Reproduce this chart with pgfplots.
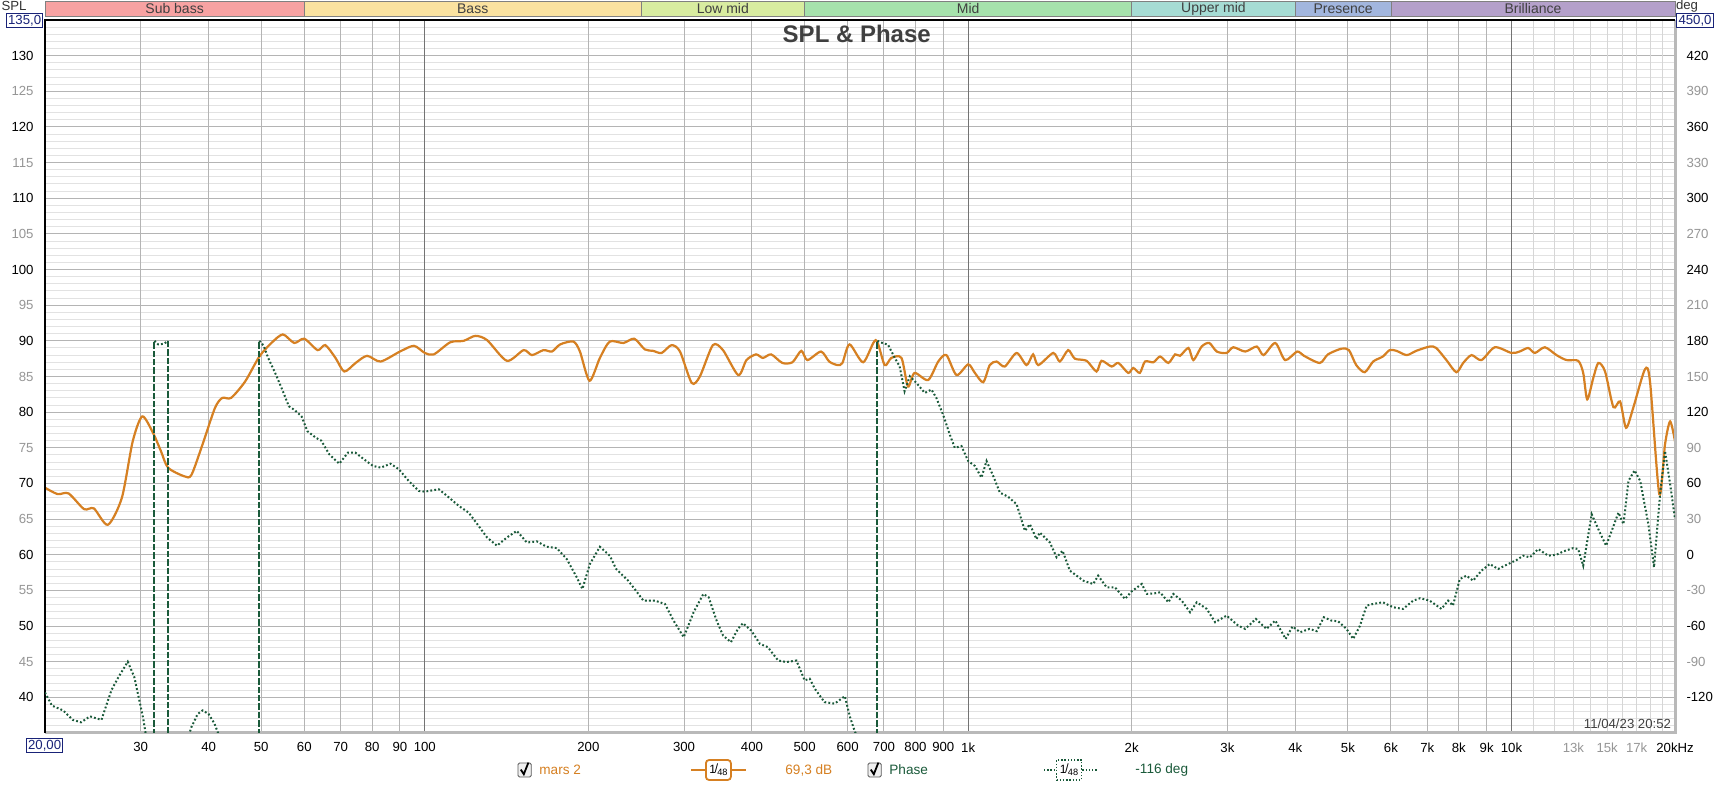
\documentclass[border=0pt]{standalone}
\usepackage{pgfplots}
\pgfplotsset{compat=1.18}
\usepackage{pgfplotstable}
\usepackage{fontspec}
\setmainfont{Liberation Sans}
\definecolor{splc}{RGB}{214,128,34}
\definecolor{phc}{RGB}{26,90,58}
\definecolor{tgray}{RGB}{150,150,150}
\definecolor{navy}{RGB}{25,35,120}
\definecolor{gmaj}{RGB}{180,180,180}
\definecolor{gmin}{RGB}{226,226,226}
\definecolor{glight}{RGB}{214,214,214}
\definecolor{gdark}{RGB}{115,115,115}
\definecolor{bSub}{RGB}{247,162,162}
\definecolor{bBass}{RGB}{250,226,160}
\definecolor{bLow}{RGB}{216,236,160}
\definecolor{bMid}{RGB}{166,226,172}
\definecolor{bUpp}{RGB}{166,220,212}
\definecolor{bPre}{RGB}{162,182,222}
\definecolor{bBri}{RGB}{180,160,202}

\pgfplotstableread{
f db
20 69.4
21.1 68.5
22.1 68.6
23.6 66.4
24.6 66.5
26.1 64.2
27.7 68.0
29.0 75.9
30.2 79.4
31.6 77.1
32.7 74.5
33.7 72.2
36.1 71.0
37.2 71.2
39.0 75.5
41.1 80.6
42.4 82.0
44.0 82.0
46.7 84.3
49.6 87.8
52.2 89.7
54.8 90.9
57.5 89.7
60.0 90.3
63.5 88.7
65.6 89.4
68.5 87.6
71.1 85.7
74.6 86.9
78.3 87.9
82.9 87.1
90 88.5
95.5 89.3
100 88.3
103.9 88.1
111.4 89.8
117.9 90.0
123.9 90.7
130.2 90.1
141.6 87.2
152 88.7
157.5 88.0
165.4 88.7
171.4 88.5
177.5 89.5
187.7 89.9
193 88.5
201 84.4
210 87.6
219 89.9
232 89.7
243 90.3
254 88.8
263 88.6
272.8 88.3
284.5 89.4
294.9 88.5
309.9 84.1
320.8 85.0
339 89.4
353.8 88.7
377.5 85.2
390.9 87.3
407 88.1
419 87.6
434 88.1
455 86.9
475 87.0
493 88.6
506 87.3
536 88.5
555 87.1
575 86.6
587 86.9
605 89.5
641 87.0
676 90.1
702 86.6
722 87.6
754 87.6
775 83.6
797 85.5
844 84.5
881 87.1
912 88.0
952 85.2
1000 86.7
1029 85.5
1066 84.2
1096 86.6
1128 87.1
1168 86.4
1228 88.3
1281 86.6
1317 88.1
1346 86.6
1434 88.3
1475 87.1
1528 88.7
1572 87.5
1652 87.2
1723 85.7
1760 87.2
1837 86.4
1890 86.9
1971 85.5
2013 86.2
2070 85.5
2116 87.1
2193 87.0
2256 87.8
2336 86.9
2404 88.1
2455 87.9
2544 89.0
2597 87.3
2690 89.2
2779 89.7
2868 88.5
2990 88.3
3076 89.1
3236 88.5
3398 89.2
3497 88.0
3675 89.7
3832 87.3
4031 88.5
4150 87.9
4438 86.9
4594 88.1
4863 88.9
5021 88.7
5179 86.6
5369 85.6
5565 87.1
5797 87.8
5966 88.7
6142 88.6
6413 88.0
6680 88.6
7070 89.2
7270 89.0
7591 87.3
7917 85.6
8149 86.9
8441 88.0
8805 87.3
9319 89.1
10000 88.3
10350 88.5
10733 89.0
11042 88.3
11520 89.1
12101 88.0
12627 87.3
13265 87.2
13552 85.5
13784 81.8
14144 84.8
14449 86.9
14867 85.7
15402 80.7
15846 81.5
16250 77.8
16752 80.6
17604 86.0
17986 84.3
18710 68.5
19170 75.5
19590 78.7
20000 75.9
}\spl

\pgfplotstableread{
f ph
20 -116
20.6 -127
21.6 -131
22.5 -139
23.3 -141
24.2 -136
25.4 -139
26.5 -114
27.3 -103
28.4 -90
29.2 -103
30.3 -137
31.0 -165
31.8 -180
}\phA

\pgfplotstableread{
f ph
31.8 180
32.3 177
33.1 177.5
33.7 180
}\phB

\pgfplotstableread{
f ph
33.7 -180
36 -165
37.2 -145
38.2 -134
39 -131
40 -134
41 -142
41.8 -152
44 -170
49.6 -180
}\phC

\pgfplotstableread{
f ph
49.6 180
50.5 176
51.5 165.6
53.2 151.6
54.8 137.6
56.2 125
57.5 122
59.3 116.6
60.8 104
63 98.5
64.5 96
66.7 84.5
69.6 76.6
72.2 85.9
74.5 86
77.3 80.3
80.3 74.7
83 73.3
86.5 76.6
89.6 71.9
93.4 62.1
97.5 53.7
100 53.1
106.1 55.1
109.9 49.5
115.5 41.1
120.4 35.5
125.6 24.3
130.2 14.5
135.8 7.6
141.6 14.5
147.7 20.1
154.1 10.3
160.8 11.2
167.7 6.7
175 5.6
182.5 -3.6
190.4 -19
195 -28.8
201.3 -7.8
210 6.7
219 -0.8
225 -12
236.7 -21.8
242 -27.4
252.5 -38.6
265 -38.6
276.7 -41.4
286.9 -55.4
299.6 -69.4
312.4 -48.4
325.6 -33
333 -35.8
344.4 -55.4
354 -68
366 -73.6
377 -62.4
385 -57.6
399 -63.8
413.7 -75
428 -77.8
447 -89
463 -90.3
483 -89
500 -105.7
511 -104.3
522 -112.7
544 -124
568 -125.3
593 -119
606 -136.5
619 -149
630 -156
650 -151
665 -153
675 -165
681 -180
}\phD

\pgfplotstableread{
f ph
681 180
697 178
712 176.8
733 165.6
748 158.6
764 137.6
781 150.2
803 144.6
832 136.2
856 139
874 132
899 118
925 101.2
945 90
972 91.5
1000 78.9
1029 74.7
1058 64.9
1081 78.9
1112 66.3
1144 52.3
1185 48.7
1228 42.5
1272 20.1
1299 25.7
1336 13.1
1355 18.7
1414 10.3
1455 -2.2
1492 3.4
1539 -13.4
1629 -21.8
1699 -24.6
1735 -17.6
1798 -27.4
1863 -27.4
1944 -37.2
2000 -30.8
2087 -24.6
2133 -33
2208 -32.4
2256 -31.6
2336 -40
2386 -33
2472 -38.6
2561 -48.4
2635 -40
2749 -45.6
2848 -56.8
2990 -51.2
3140 -59.6
3236 -62.4
3385 -54
3540 -62.4
3676 -55.4
3840 -70.8
3954 -60.4
4085 -65.2
4250 -62.4
4380 -64.3
4515 -52.6
4662 -55.4
4796 -56
4969 -62.4
5113 -70.8
5263 -59.6
5412 -42.8
5565 -41.4
5797 -40
6056 -44.2
6318 -45.6
6593 -38.6
6789 -36.6
7070 -38.6
7432 -45.6
7645 -38.6
7805 -42.8
8033 -20.4
8262 -17.6
8499 -21.8
8805 -13.4
9120 -7.8
9450 -12
9860 -7.8
10214 -4.5
10508 -0.8
10810 -2.2
11197 4.8
11685 -0.8
12101 0
12449 2.8
12992 5.6
13265 4.8
13552 -9.2
14047 34.1
14449 21.5
14930 7.6
15291 20.1
15734 35.5
16073 25.7
16418 62.1
16846 71
17254 62.1
17862 25.7
18294 -10.6
18772 50.9
19170 87.3
19590 59.3
20000 29.9
}\phE

\newcommand{\tg}[1]{\textcolor{tgray}{#1}}
\newcommand{\chk}[2]{%
  \draw[gray!70!black, fill=gray!12, rounded corners=0.7pt, line width=0.45pt] (#1,#2) rectangle ++(6.6pt,7pt);
  \draw[black, line width=0.9pt] ($(#1,#2)+(1.4pt,3.7pt)$) -- ++(1.5pt,-2.3pt) -- ++(2.3pt,5.8pt);}
\usetikzlibrary{calc}

\begin{document}
\begin{tikzpicture}
\useasboundingbox (0,0) rectangle (866pt,392.5pt);
\fill[white] (0,0) rectangle (866pt,392.5pt);

\begin{axis}[
  at={(22.5pt,26pt)}, anchor=south west, scale only axis,
  width=815pt, height=356.5pt,
  xmode=log, xmin=20, xmax=20000, ymin=35, ymax=135,
  clip=false,
  axis line style={draw=none},
  major tick length=0pt, minor tick length=0pt,
  xtick={30,40,50,60,70,80,90,100,200,300,400,500,600,700,800,900,1000,2000,3000,4000,5000,6000,7000,8000,9000,10000,13000,15000,17000,20000},
  xticklabels={30,40,50,60,70,80,90,100,200,300,400,500,600,700,800,900,1k,2k,3k,4k,5k,6k,7k,8k,9k,10k,\tg{13k},\tg{15k},\tg{17k},20kHz},
  xticklabel style={font=\fontsize{6.6}{7}\selectfont, yshift=-1.2pt},
  ytick={35,40,...,135},
  yticklabels={,40,\tg{45},50,\tg{55},60,\tg{65},70,\tg{75},80,\tg{85},90,\tg{95},100,\tg{105},110,\tg{115},120,\tg{125},130,},
  yticklabel style={font=\fontsize{6.6}{7}\selectfont, xshift=-2.2pt},
  minor y tick num=4,
  ymajorgrids, yminorgrids,
  major grid style={gmaj, line width=0.5pt},
  minor grid style={gmin, line width=0.5pt},
]
\pgfplotsinvokeforeach{30,40,50,60,70,80,90,200,300,400,500,600,700,800,900,2000,3000,4000,5000,6000,7000,8000,9000}{
  \draw[gmaj, line width=0.5pt] (axis cs:#1,35) -- (axis cs:#1,135);}
\pgfplotsinvokeforeach{11000,12000,13000,14000,15000,16000,17000,18000,19000}{
  \draw[glight, line width=0.5pt] (axis cs:#1,35) -- (axis cs:#1,135);}
\pgfplotsinvokeforeach{100,1000,10000}{
  \draw[gdark, line width=0.6pt] (axis cs:#1,35) -- (axis cs:#1,135);}

% frequency bands
\def\ba{135.56}\def\bb{137.66}
\filldraw[fill=bSub, draw=gray, line width=0.4pt] (axis cs:20,\ba) rectangle (axis cs:60,\bb);
\filldraw[fill=bBass, draw=gray, line width=0.4pt] (axis cs:60,\ba) rectangle (axis cs:250,\bb);
\filldraw[fill=bLow, draw=gray, line width=0.4pt] (axis cs:250,\ba) rectangle (axis cs:500,\bb);
\filldraw[fill=bMid, draw=gray, line width=0.4pt] (axis cs:500,\ba) rectangle (axis cs:2000,\bb);
\filldraw[fill=bUpp, draw=gray, line width=0.4pt] (axis cs:2000,\ba) rectangle (axis cs:4000,\bb);
\filldraw[fill=bPre, draw=gray, line width=0.4pt] (axis cs:4000,\ba) rectangle (axis cs:6000,\bb);
\filldraw[fill=bBri, draw=gray, line width=0.4pt] (axis cs:6000,\ba) rectangle (axis cs:20000,\bb);
\begin{scope}[every node/.style={font=\fontsize{7}{7.5}\selectfont, text=black!75, inner sep=0pt}]
\node at (axis cs:34.64,136.61) {Sub bass};
\node at (axis cs:122.5,136.61) {Bass};
\node at (axis cs:353.6,136.61) {Low mid};
\node at (axis cs:1000,136.61) {Mid};
\node at (axis cs:2828,136.61) {Upper mid};
\node at (axis cs:4899,136.61) {Presence};
\node at (axis cs:10954,136.61) {Brilliance};
\end{scope}

\addplot[splc, line width=1.1pt, smooth, tension=0.45] table[x=f, y=db] {\spl};

% frame
\draw[gray!55, line width=1.5pt] (rel axis cs:0,0) -- (rel axis cs:1,0) -- (rel axis cs:1,1);
\draw[black, line width=1pt] (rel axis cs:0,0) -- (rel axis cs:0,1) -- (rel axis cs:1,1);

\node[font=\fontsize{12}{14}\bfseries\selectfont, text=black!75, anchor=center, yshift=-7pt] at (rel axis cs:0.498,1) {SPL \& Phase};
\node[font=\fontsize{6.6}{7}\selectfont, text=black!75, anchor=south east, inner sep=0pt, xshift=-1.8pt, yshift=1.8pt] at (rel axis cs:1,0) {11/04/23 20:52};
\end{axis}

\begin{axis}[
  at={(22.5pt,26pt)}, anchor=south west, scale only axis,
  width=815pt, height=356.5pt,
  xmode=log, xmin=20, xmax=20000, ymin=-150, ymax=450,
  axis line style={draw=none},
  major tick length=0pt, minor tick length=0pt,
  xtick=\empty,
  ytick={-120,-90,...,420},
  yticklabels={-120,\tg{-90},-60,\tg{-30},0,\tg{30},60,\tg{90},120,\tg{150},180,\tg{210},240,\tg{270},300,\tg{330},360,\tg{390},420},
  yticklabel pos=right,
  yticklabel style={font=\fontsize{6.6}{7}\selectfont, xshift=2.2pt},
]
\addplot[phc, line width=1pt, dash pattern=on 0.9pt off 1.1pt] table[x=f, y=ph] {\phA};
\addplot[phc, line width=1pt, dash pattern=on 0.9pt off 1.1pt] table[x=f, y=ph] {\phB};
\addplot[phc, line width=1pt, dash pattern=on 0.9pt off 1.1pt] table[x=f, y=ph] {\phC};
\addplot[phc, line width=1pt, dash pattern=on 0.9pt off 1.1pt] table[x=f, y=ph] {\phD};
\addplot[phc, line width=1pt, dash pattern=on 0.9pt off 1.1pt] table[x=f, y=ph] {\phE};
\addplot[phc, line width=1pt, dash pattern=on 3.2pt off 1pt] coordinates {(31.8,-180) (31.8,180)};
\addplot[phc, line width=1pt, dash pattern=on 3.2pt off 1pt] coordinates {(33.7,180) (33.7,-180)};
\addplot[phc, line width=1pt, dash pattern=on 3.2pt off 1pt] coordinates {(49.6,-180) (49.6,180)};
\addplot[phc, line width=1pt, dash pattern=on 3.2pt off 1pt] coordinates {(681,-180) (681,180)};
\end{axis}

% axis corner labels
\node[font=\fontsize{6.6}{7}\selectfont, text=black!80] at (7pt,389.3pt) {SPL};
\node[font=\fontsize{6.6}{7}\selectfont, text=navy, draw=navy, fill=white, line width=0.5pt, inner sep=0.8pt] at (12.3pt,382.3pt) {135,0};
\node[font=\fontsize{6.6}{7}\selectfont, text=black!80] at (843.5pt,389.3pt) {deg};
\node[font=\fontsize{6.6}{7}\selectfont, text=navy, draw=navy, fill=white, line width=0.5pt, inner sep=0.8pt] at (847.5pt,382.3pt) {450,0};
\node[font=\fontsize{6.6}{7}\selectfont, text=navy, draw=navy, fill=white, line width=0.5pt, inner sep=0.8pt] at (22.3pt,19.8pt) {20,00};

% legend row
\chk{259pt}{4pt}
\node[font=\fontsize{6.8}{7}\selectfont, text=splc, anchor=west, inner sep=0pt] at (269.5pt,7.5pt) {mars 2};
\draw[splc, line width=0.9pt] (345.5pt,7.5pt) -- (373pt,7.5pt);
\node[draw=splc, fill=white, line width=0.9pt, rounded corners=1.6pt, minimum width=12.5pt, minimum height=10pt, inner sep=0pt, font=\fontsize{6}{6}\selectfont] at (359.2pt,7.5pt) {1\kern-0.6pt\raisebox{0.3pt}{/}\kern-0.4pt\raisebox{-1.3pt}{\fontsize{4.6}{5}\selectfont 48}};
\node[font=\fontsize{6.8}{7}\selectfont, text=splc, anchor=west, inner sep=0pt] at (392.5pt,7.5pt) {69,3 dB};
\chk{434pt}{4pt}
\node[font=\fontsize{6.8}{7}\selectfont, text=phc, anchor=west, inner sep=0pt] at (444.5pt,7.5pt) {Phase};
\draw[phc, line width=0.9pt, dash pattern=on 0.7pt off 0.9pt] (522pt,7.5pt) -- (548.5pt,7.5pt);
\node[draw=phc, fill=white, line width=0.9pt, dash pattern=on 0.7pt off 0.9pt, minimum width=12.5pt, minimum height=10pt, inner sep=0pt, font=\fontsize{6}{6}\selectfont] at (534.5pt,7.5pt) {1\kern-0.6pt\raisebox{0.3pt}{/}\kern-0.4pt\raisebox{-1.3pt}{\fontsize{4.6}{5}\selectfont 48}};
\node[font=\fontsize{6.8}{7}\selectfont, text=phc, anchor=west, inner sep=0pt] at (567.5pt,7.5pt) {-116 deg};
\end{tikzpicture}
\end{document}
